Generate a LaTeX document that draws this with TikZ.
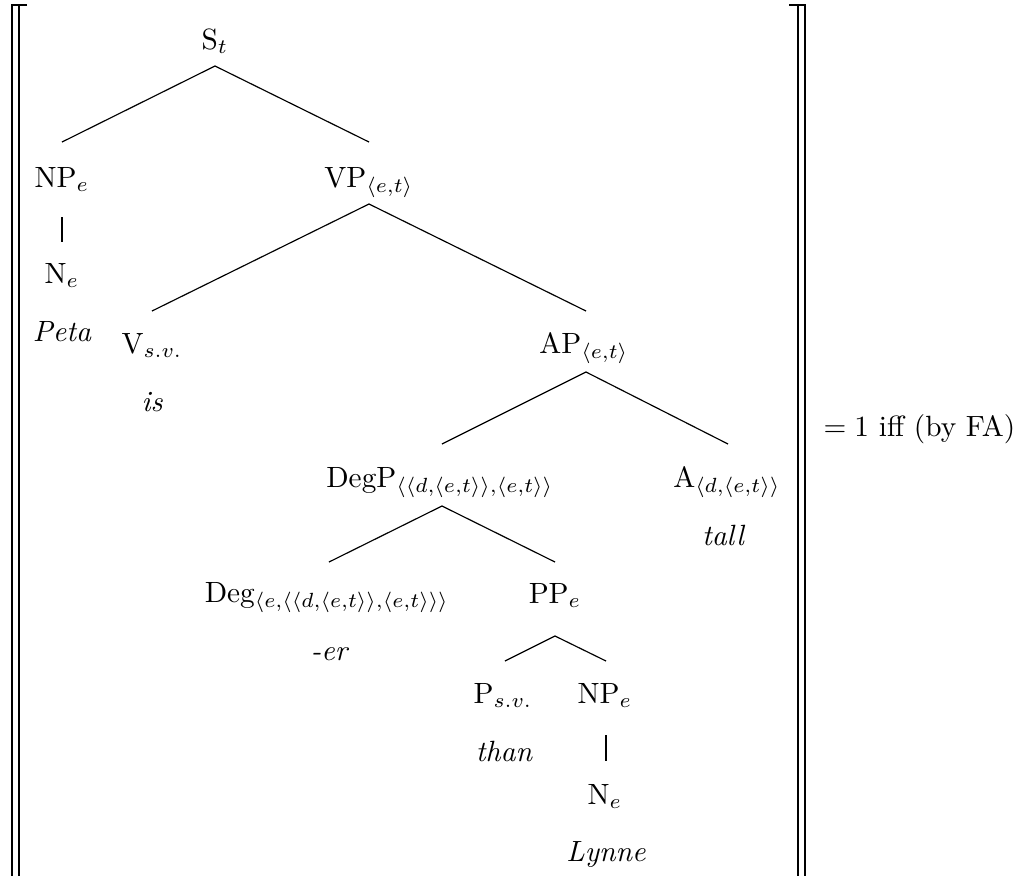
\documentclass[tikz,border=0pt]{standalone}
\usetikzlibrary{calc}
\begin{document}
\begin{tikzpicture}[x=0.3413pt, y=-0.3413pt,
  lab/.style={anchor=base, inner sep=0pt, outer sep=0pt},
  word/.style={lab, font=\itshape},
  branch/.style={line width=0.4pt},
  bracket/.style={line width=0.6pt}]
\useasboundingbox (0,0) rectangle (1022,876);

% semantic-value brackets
\draw[bracket] (27,5) -- (12,5) -- (12,876);
\draw[bracket] (19,5) -- (19,876);
\draw[bracket] (789,5) -- (805,5) -- (805,876);
\draw[bracket] (798,5) -- (798,876);

% tree labels (placed at their baselines)
\node[lab] (S)    at (215,49)  {S$_t$};
\node[lab] (NP)   at (62,187)  {NP$_e$};
\node[lab] (VP)   at (369,187) {VP$_{\langle e,t\rangle}$};
\node[lab] (N)    at (62,283)  {N$_e$};
\node[word] (peta) at (62,341) {Peta};
\node[lab] (V)    at (152,353) {V$_{s.v.}$};
\node[word] (is)  at (152,411) {is};
\node[lab] (AP)   at (584,353) {AP$_{\langle e,t\rangle}$};
\node[lab] (DegP) at (440,487) {DegP$_{\langle\langle d,\langle e,t\rangle\rangle,\langle e,t\rangle\rangle}$};
\node[lab] (A)    at (727,487) {A$_{\langle d,\langle e,t\rangle\rangle}$};
\node[word] (tall) at (723,545) {tall};
\node[lab] (Deg)  at (327,602) {Deg$_{\langle e,\langle\langle d,\langle e,t\rangle\rangle,\langle e,t\rangle\rangle\rangle}$};
\node[word] (er)  at (329,660) {-er};
\node[lab] (PP)   at (555,603) {PP$_e$};
\node[lab] (P)    at (503,703) {P$_{s.v.}$};
\node[word] (than) at (504,761) {than};
\node[lab] (NPb)  at (605,703) {NP$_e$};
\node[lab] (Nb)   at (605,804) {N$_e$};
\node[word] (lynne) at (606,861) {Lynne};

% branches
\draw[branch] ($(NP.base)+(0,-45)$) -- ($(S.base)+(0,17)$) -- ($(VP.base)+(0,-45)$);
\draw[branch] ($(NP.base)+(0,30)$) -- ($(N.base)+(0,-41)$);
\draw[branch] ($(V.base)+(0,-42)$) -- ($(VP.base)+(0,17)$) -- ($(AP.base)+(2,-42)$);
\draw[branch] ($(DegP.base)+(2,-43)$) -- ($(AP.base)+(2,19)$) -- ($(A.base)+(1,-43)$);
\draw[branch] ($(Deg.base)+(2,-40)$) -- ($(DegP.base)+(2,19)$) -- ($(PP.base)+(0,-41)$);
\draw[branch] ($(P.base)+(2,-42)$) -- ($(PP.base)+(0,33)$) -- ($(NPb.base)+(1,-42)$);
\draw[branch] ($(NPb.base)+(1,32)$) -- ($(Nb.base)+(1,-43)$);

% right-hand side
\node[anchor=base west, inner sep=0pt] (rhs) at (823,436) {$= 1$ iff (by FA)};
\end{tikzpicture}
\end{document}
